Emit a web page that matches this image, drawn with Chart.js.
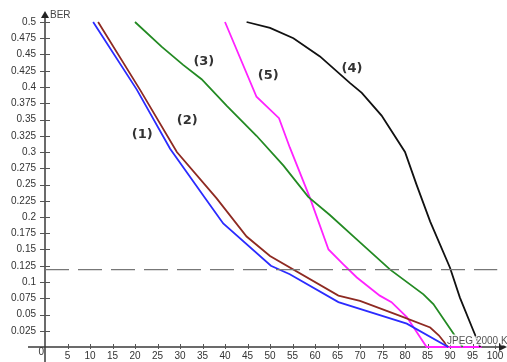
<!DOCTYPE html>
<html>
<head>
<meta charset="utf-8">
<script src="https://cdn.jsdelivr.net/npm/chart.js@4.4.0/dist/chart.umd.min.js"></script>
<style>
html,body{margin:0;padding:0;background:#fff;}
#wrap{width:507px;height:362px;position:relative;}
</style>
</head>
<body>
<div id="wrap"><canvas id="c" width="507" height="362"></canvas></div>
<script>
// ---- data (JPEG 2000 K vs BER) ----
const curve1X = [10.7, 20.4, 27.8, 35.6, 39.6, 50.2, 54.4, 65.2, 80.4, 89.6];
const curve1Y = [0.5, 0.396, 0.305, 0.229, 0.19, 0.125, 0.112, 0.069, 0.036, 0];
const curve2X = [11.8, 21.1, 29.3, 38.1, 44.8, 50, 65.2, 70, 78.9, 85.6, 87.5, 89.6];
const curve2Y = [0.5, 0.396, 0.3, 0.229, 0.17, 0.14, 0.079, 0.071, 0.048, 0.03, 0.018, 0];
const curve3X = [20, 25.9, 30.7, 34.8, 40.4, 47, 53, 58.5, 63.3, 68.9, 76.7, 84.1, 86.3, 92.8];
const curve3Y = [0.5, 0.462, 0.434, 0.412, 0.371, 0.325, 0.279, 0.231, 0.203, 0.168, 0.119, 0.081, 0.066, 0];
const curve4X = [44.8, 50, 55.2, 61.1, 67.8, 70.4, 74.8, 80, 82.6, 85.6, 90, 92.2, 95.2, 96.7];
const curve4Y = [0.5, 0.491, 0.475, 0.447, 0.406, 0.391, 0.356, 0.3, 0.249, 0.193, 0.122, 0.076, 0.025, 0];
const curve5X = [40, 47, 52, 54.4, 58.9, 63, 66.3, 69.3, 74.4, 77, 80.4, 84.8, 97];
const curve5Y = [0.5, 0.385, 0.352, 0.307, 0.229, 0.15, 0.127, 0.107, 0.079, 0.069, 0.046, 0, 0];
const thresholdX = [0, 100.5];
const thresholdY = [0.119, 0.119];
const curveNames = ['(1)', '(2)', '(3)', '(4)', '(5)'];
const xTickValues = [5,10,15,20,25,30,35,40,45,50,55,60,65,70,75,80,85,90,95,100];
const yTickValues = [0.025,0.05,0.075,0.1,0.125,0.15,0.175,0.2,0.225,0.25,0.275,0.3,0.325,0.35,0.375,0.4,0.425,0.45,0.475,0.5];
const xAxisTitle = 'JPEG 2000 K';
const yAxisTitle = 'BER';
const originLabel = '0';

// ---- annotation positions (data coords) ----
const namePos = [[21.6,0.326],[31.6,0.348],[35.3,0.439],[68.2,0.428],[49.6,0.418]];

function pts(xs, ys){ return xs.map((x,i)=>({x:x, y:ys[i]})); }

const colors = ['#2b2bff', '#8e2a22', '#238a23', '#111111', '#ff22ff'];

const axesPlugin = {
  id: 'axesPlugin',
  beforeDatasetsDraw(chart){
    const ctx = chart.ctx;
    const xs = chart.scales.x, ys = chart.scales.y;
    const x0 = Math.round(xs.getPixelForValue(0)), y0 = Math.round(ys.getPixelForValue(0));
    ctx.save();
    ctx.strokeStyle = '#3a3a3a';
    ctx.fillStyle = '#222';
    ctx.lineWidth = 1.5;
    // x axis line
    ctx.beginPath();
    ctx.moveTo(28, y0); ctx.lineTo(501, y0); ctx.stroke();
    ctx.beginPath();
    ctx.moveTo(507, y0); ctx.lineTo(499, y0-4); ctx.lineTo(499, y0+4); ctx.closePath(); ctx.fill();
    // y axis line
    ctx.beginPath();
    ctx.moveTo(x0, 362); ctx.lineTo(x0, 17); ctx.stroke();
    ctx.beginPath();
    ctx.moveTo(x0, 11); ctx.lineTo(x0-4, 18); ctx.lineTo(x0+4, 18); ctx.closePath(); ctx.fill();
    // ticks
    ctx.lineWidth = 1;
    ctx.strokeStyle = '#555';
    xTickValues.forEach(v=>{
      const px = Math.round(xs.getPixelForValue(v))+0.5;
      ctx.beginPath(); ctx.moveTo(px, y0-3); ctx.lineTo(px, y0+2); ctx.stroke();
    });
    yTickValues.forEach(v=>{
      const py = Math.round(ys.getPixelForValue(v))+0.5;
      ctx.beginPath(); ctx.moveTo(x0-5, py); ctx.lineTo(x0+5, py); ctx.stroke();
    });
    // texts
    ctx.fillStyle = '#333';
    ctx.font = '10px "Liberation Sans", Arial, sans-serif';
    ctx.textAlign = 'right'; ctx.textBaseline = 'middle';
    ctx.fillText(originLabel, x0-1, y0+5);
    ctx.textAlign = 'left';
    ctx.fillStyle = '#444';
    ctx.fillText(yAxisTitle, x0+5, 15);
    ctx.restore();
  },
  afterDatasetsDraw(chart){
    const ctx = chart.ctx;
    const xs = chart.scales.x, ys = chart.scales.y;
    ctx.save();
    ctx.font = 'bold 13px "DejaVu Sans", sans-serif';
    ctx.fillStyle = '#333';
    ctx.textAlign = 'center'; ctx.textBaseline = 'middle';
    curveNames.forEach((n,i)=>{
      ctx.fillText(n, xs.getPixelForValue(namePos[i][0]), ys.getPixelForValue(namePos[i][1]));
    });
    ctx.font = '10px "Liberation Sans", Arial, sans-serif';
    ctx.textAlign = 'left'; ctx.textBaseline = 'alphabetic';
    ctx.lineWidth = 3; ctx.lineJoin = 'round'; ctx.strokeStyle = 'rgba(255,255,255,0.85)';
    ctx.strokeText(xAxisTitle, 447, 344);
    ctx.fillStyle = '#555';
    ctx.fillText(xAxisTitle, 447, 344);
    ctx.restore();
  }
};

const series = [[curve1X,curve1Y],[curve2X,curve2Y],[curve3X,curve3Y],[curve4X,curve4Y],[curve5X,curve5Y]];
const datasets = series.map((s,i)=>({
  label: curveNames[i],
  data: pts(s[0], s[1]),
  borderColor: colors[i],
  borderWidth: 1.8,
  pointRadius: 0,
  tension: 0,
  fill: false,
  clip: 6
}));
datasets.unshift({
  label: 'threshold',
  data: pts(thresholdX, thresholdY),
  borderColor: '#777',
  borderWidth: 1.4,
  borderDash: [24, 9],
  pointRadius: 0,
  fill: false,
  clip: 6
});

new Chart(document.getElementById('c'), {
  type: 'line',
  data: { datasets: datasets },
  options: {
    responsive: false,
    animation: false,
    events: [],
    layout: { padding: { top: 22, right: 12, left: 0, bottom: 0 } },
    plugins: { legend: { display: false }, tooltip: { enabled: false } },
    scales: {
      x: {
        type: 'linear', min: 0, max: 100,
        grid: { display: false, drawTicks: false, tickLength: 0 }, border: { display: false },
        afterFit(s){ s.height = 12; },
        ticks: {
          stepSize: 5, autoSkip: false, maxRotation: 0, padding: 3,
          color: '#333', font: { family: '"Liberation Sans", Arial, sans-serif', size: 10 },
          callback: v => v === 0 ? '' : String(v)
        }
      },
      y: {
        type: 'linear', min: 0, max: 0.5,
        grid: { display: false, drawTicks: false, tickLength: 0 }, border: { display: false },
        afterFit(s){ s.width = 45; },
        ticks: {
          stepSize: 0.025, autoSkip: false, padding: 9,
          color: '#333', font: { family: '"Liberation Sans", Arial, sans-serif', size: 10 },
          callback: v => v === 0 ? '' : String(+v.toFixed(3))
        }
      }
    }
  },
  plugins: [axesPlugin]
});
</script>
</body>
</html>
